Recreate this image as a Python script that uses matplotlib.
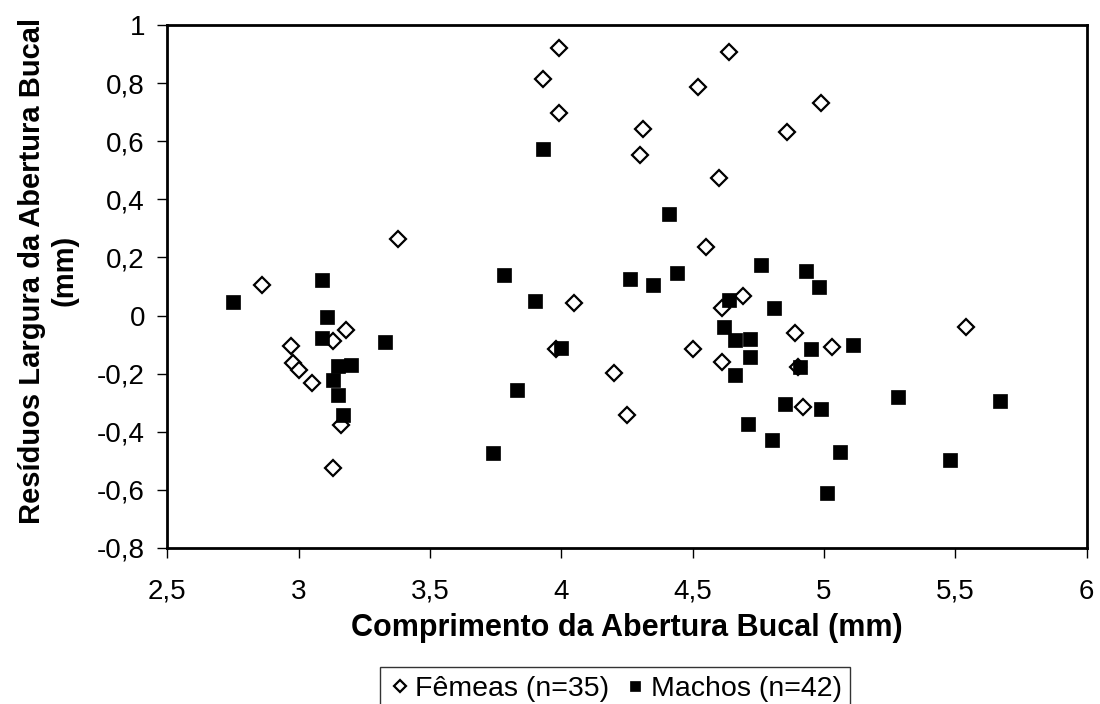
import matplotlib.pyplot as plt
from matplotlib.ticker import FuncFormatter

plt.rcParams['font.family'] = ['Liberation Sans', 'DejaVu Sans']

# Fêmeas (n=35)
femeas_x = [3.38, 2.86, 3.18, 3.13, 2.97, 2.98, 3.00, 3.05, 3.16, 3.13,
            3.99, 3.93, 3.99, 4.31, 4.30, 4.64, 4.52, 4.60, 4.55, 4.05,
            3.98, 4.20, 4.25, 4.50, 4.69, 4.61, 4.61,
            4.99, 4.86, 5.54, 4.89, 5.03, 4.90, 4.92]
femeas_y = [0.262, 0.105, -0.049, -0.086, -0.106, -0.165, -0.189, -0.232, -0.377, -0.525,
            0.920, 0.815, 0.698, 0.642, 0.552, 0.906, 0.786, 0.472, 0.237, 0.042,
            -0.115, -0.199, -0.343, -0.115, 0.067, 0.025, -0.160,
            0.731, 0.630, -0.041, -0.059, -0.109, -0.177, -0.316]

# Machos (n=42)
machos_x = [2.75, 3.09, 3.11, 3.09, 3.33, 3.15, 3.20, 3.13, 3.15, 3.17,
            3.93, 4.41, 4.76, 3.78, 4.26, 4.35, 4.44, 3.90, 4.81, 4.64,
            4.62, 4.66, 4.72, 4.72, 4.66, 4.00, 3.83, 3.74, 4.85, 4.71, 4.80,
            4.93, 4.98, 4.95, 5.11, 4.91, 4.99, 5.28, 5.67, 5.06, 5.48, 5.01]
machos_y = [0.048, 0.122, -0.006, -0.078, -0.090, -0.173, -0.170, -0.223, -0.273, -0.343,
            0.573, 0.348, 0.173, 0.141, 0.126, 0.104, 0.148, 0.049, 0.025, 0.054,
            -0.038, -0.084, -0.081, -0.142, -0.205, -0.112, -0.257, -0.473, -0.304, -0.374, -0.427,
            0.154, 0.099, -0.115, -0.102, -0.177, -0.322, -0.281, -0.294, -0.469, -0.498, -0.611]

fig = plt.figure(figsize=(11, 7.04), dpi=100)
ax = fig.add_axes([0.152, 0.2216, 0.836, 0.7429])

ax.plot(femeas_x, femeas_y, linestyle='none', marker='D', markersize=8.5,
        markerfacecolor='white', markeredgecolor='black', markeredgewidth=1.6,
        label='Fêmeas (n=35)', zorder=3)
ax.plot(machos_x, machos_y, linestyle='none', marker='s', markersize=10.5,
        markerfacecolor='black', markeredgecolor='black', markeredgewidth=0.5,
        label='Machos (n=42)', zorder=4)

ax.set_xlim(2.5, 6)
ax.set_ylim(-0.8, 1)
ax.set_xticks([2.5, 3, 3.5, 4, 4.5, 5, 5.5, 6])
ax.set_yticks([-0.8, -0.6, -0.4, -0.2, 0, 0.2, 0.4, 0.6, 0.8, 1])

fmt = FuncFormatter(lambda v, p: ('%g' % round(v, 2)).replace('.', ','))
ax.xaxis.set_major_formatter(fmt)
ax.yaxis.set_major_formatter(fmt)
ax.tick_params(direction='out', length=7, width=1, labelsize=20, colors='black')
ax.tick_params(axis='x', pad=15)
ax.tick_params(axis='y', pad=9)

for s in ax.spines.values():
    s.set_linewidth(2)

ax.set_xlabel('Comprimento da Abertura Bucal (mm)', fontsize=22, fontweight='bold', labelpad=6)
ax.set_ylabel('Resíduos Largura da Abertura Bucal\n(mm)', fontsize=21, fontweight='bold',
              linespacing=1.2, va='center', ha='center')
ax.yaxis.set_label_coords(-0.129, 0.53)

leg = fig.legend(loc='upper center', bbox_to_anchor=(0.559, 0.0526), ncol=2,
                 fontsize=20.5, frameon=True, fancybox=False, handletextpad=0.15,
                 columnspacing=0.5, borderpad=0.3, borderaxespad=0, handlelength=0.8,
                 markerscale=0.75)
leg.get_frame().set_edgecolor('black')
leg.get_frame().set_linewidth(1.0)

plt.savefig('out.png', dpi=100)
